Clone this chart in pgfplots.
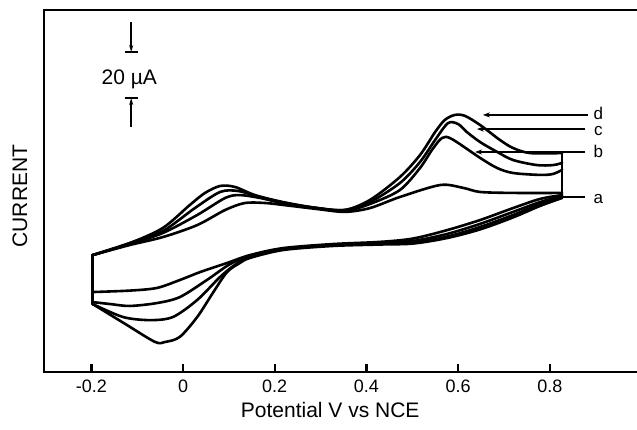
\documentclass[border=0pt]{standalone}
\usepackage{fontspec}
\setmainfont{Liberation Sans}
\usepackage{pgfplots}
\pgfplotsset{compat=1.18}
\usetikzlibrary{arrows.meta}
\begin{document}
\begin{tikzpicture}
\useasboundingbox (-44pt,-57pt) rectangle (593pt,372pt);
\begin{axis}[
  at={(0pt,0pt)}, anchor=south west,
  scale only axis, width=600pt, height=362pt,
  xmin=-0.3032, xmax=1.0055, ymin=-52.92, ymax=97.92,
  xtick={-0.2,0,0.2,0.4,0.6,0.8},
  xticklabels={-0.2,0,0.2,0.4,0.6,0.8},
  ytick=\empty,
  tick align=inside, xtick pos=left,
  major tick length=8pt,
  tick style={line width=2.4pt, black},
  axis line style={line width=2.8pt},
  xticklabel style={font=\fontsize{18}{20}\selectfont, anchor=north, yshift=-4pt},
  xlabel={Potential V vs NCE},
  ylabel={CURRENT},
  xlabel style={font=\fontsize{21}{24}\selectfont, at={(axis description cs:0.477,-0.105)}, anchor=center},
  ylabel style={font=\fontsize{21}{24}\selectfont, at={(axis description cs:-0.04,0.486)}, anchor=center, rotate=0},
  every axis plot/.append style={black, line width=2.6pt, no marks, line join=round, line cap=round},
  clip=false,
]
% ---------- curve a ----------
\addplot[smooth, tension=0.5] coordinates {
(-0.197,-4.2) (-0.116,0.0) (-0.044,3.3) (0.031,8.3) (0.092,14.6) (0.135,17.5)
(0.179,17.5) (0.218,16.7) (0.292,15.0) (0.353,13.8) (0.408,15.4) (0.473,20.0)
(0.561,25.0) (0.611,23.8) (0.648,22.1) (0.720,21.7) (0.827,21.7)};
\addplot[sharp plot] coordinates {(0.827,21.7) (0.827,20.8)};
\addplot[smooth, tension=0.5] coordinates {
(0.827,20.8) (0.779,19.2) (0.720,15.4) (0.648,10.4) (0.576,6.2) (0.502,2.7)
(0.430,1.3) (0.327,0.4) (0.218,-1.3) (0.146,-4.2) (0.096,-7.5) (0.037,-11.3)
(-0.007,-14.6) (-0.057,-17.9) (-0.116,-19.0) (-0.197,-19.6)};
\addplot[sharp plot] coordinates {(-0.197,-19.6) (-0.197,-4.2)};
% ---------- curve b ----------
\addplot[smooth, tension=0.5] coordinates {
(-0.197,-4.2) (-0.116,0.4) (-0.044,5.0) (0.031,12.5) (0.092,19.6) (0.124,20.8)
(0.168,19.6) (0.218,17.5) (0.292,15.4) (0.353,14.2) (0.408,17.1) (0.473,22.9)
(0.517,32.1) (0.543,39.6) (0.565,44.6) (0.586,44.2) (0.648,36.3) (0.685,32.1)
(0.720,30.0) (0.779,29.2) (0.807,29.6) (0.827,31.3)};
\addplot[sharp plot] coordinates {(0.827,31.3) (0.827,20.4)};
\addplot[smooth, tension=0.5] coordinates {
(0.827,20.4) (0.779,17.9) (0.720,13.8) (0.648,8.8) (0.576,4.6) (0.502,1.7)
(0.430,0.8) (0.327,0.0) (0.218,-1.7) (0.146,-4.6) (0.103,-7.9) (0.052,-14.6)
(-0.007,-21.7) (-0.057,-24.2) (-0.116,-25.4) (-0.159,-24.6) (-0.197,-23.8)};
\addplot[sharp plot] coordinates {(-0.197,-23.8) (-0.197,-4.2)};
% ---------- curve c ----------
\addplot[smooth, tension=0.5] coordinates {
(-0.197,-4.2) (-0.116,0.8) (-0.044,5.8) (0.026,15.4) (0.081,22.1) (0.120,22.5)
(0.168,20.0) (0.218,17.5) (0.292,15.4) (0.353,14.6) (0.408,17.9) (0.473,25.8)
(0.517,34.6) (0.550,43.8) (0.578,50.8) (0.600,50.4) (0.619,47.1) (0.648,42.9)
(0.685,38.8) (0.720,35.4) (0.772,33.3) (0.807,33.3) (0.827,34.2)};
\addplot[sharp plot] coordinates {(0.827,34.2) (0.827,20.0)};
\addplot[smooth, tension=0.5] coordinates {
(0.827,20.0) (0.779,17.1) (0.720,12.5) (0.648,7.5) (0.576,3.5) (0.502,1.1)
(0.430,0.6) (0.327,0.0) (0.218,-1.7) (0.146,-5.0) (0.113,-8.3) (0.081,-13.3)
(0.031,-22.9) (-0.022,-30.0) (-0.072,-31.3) (-0.131,-30.0) (-0.197,-24.6)};
\addplot[sharp plot] coordinates {(-0.197,-24.6) (-0.197,-4.2)};
% ---------- curve d ----------
\addplot[smooth, tension=0.5] coordinates {
(-0.197,-4.2) (-0.116,0.8) (-0.044,7.1) (0.015,16.7) (0.048,21.7) (0.081,24.6)
(0.113,24.2) (0.157,20.8) (0.218,17.9) (0.292,15.4) (0.353,14.6) (0.408,18.8)
(0.473,28.3) (0.517,37.5) (0.550,47.1) (0.571,52.1) (0.593,54.2) (0.615,53.8)
(0.648,50.0) (0.691,43.8) (0.720,40.4) (0.757,38.3) (0.827,38.3)};
\addplot[sharp plot] coordinates {(0.827,38.3) (0.827,19.6)};
\addplot[smooth, tension=0.5] coordinates {
(0.827,19.6) (0.779,16.3) (0.720,11.5) (0.648,6.5) (0.576,2.9) (0.502,0.6)
(0.430,0.2) (0.327,-0.4) (0.218,-2.1) (0.146,-5.4) (0.124,-7.5) (0.096,-11.3)
(0.065,-20.0) (0.031,-30.0) (-0.007,-38.3) (-0.039,-40.4) (-0.061,-40.4)
(-0.126,-32.9) (-0.197,-24.6)};
\addplot[sharp plot] coordinates {(-0.197,-24.6) (-0.197,-4.2)};
% ---------- annotations ----------
\draw[line width=1.6pt, -{Stealth[length=7pt,width=5pt]}] (axis cs:0.883,54.2) -- (axis cs:0.654,54.2);
\draw[line width=1.6pt, -{Stealth[length=7pt,width=5pt]}] (axis cs:0.877,48.3) -- (axis cs:0.641,48.3);
\draw[line width=1.6pt, -{Stealth[length=7pt,width=5pt]}] (axis cs:0.877,38.75) -- (axis cs:0.637,38.75);
\draw[line width=1.6pt] (axis cs:0.827,20.0) -- (axis cs:0.877,20.0);
\node[font=\fontsize{17}{17}\selectfont, anchor=base, inner sep=0pt] at (axis cs:0.906,52.3) {d};
\node[font=\fontsize{17}{17}\selectfont, anchor=base, inner sep=0pt] at (axis cs:0.906,45.6) {c};
\node[font=\fontsize{17}{17}\selectfont, anchor=base, inner sep=0pt] at (axis cs:0.906,36.3) {b};
\node[font=\fontsize{17}{17}\selectfont, anchor=base, inner sep=0pt] at (axis cs:0.906,17.5) {a};
% scale bar
\draw[line width=1.8pt, -{Stealth[length=7pt,width=4pt]}] (axis cs:-0.113,92.9) -- (axis cs:-0.113,80.4);
\draw[line width=1.8pt] (axis cs:-0.127,80.4) -- (axis cs:-0.099,80.4);
\draw[line width=1.8pt, -{Stealth[length=7pt,width=4pt]}] (axis cs:-0.113,49.2) -- (axis cs:-0.113,61.25);
\draw[line width=1.8pt] (axis cs:-0.127,61.25) -- (axis cs:-0.099,61.25);
\node[font=\fontsize{21}{24}\selectfont, anchor=base] at (axis cs:-0.117,66.7) {20 µA};
\end{axis}
\end{tikzpicture}
\end{document}
